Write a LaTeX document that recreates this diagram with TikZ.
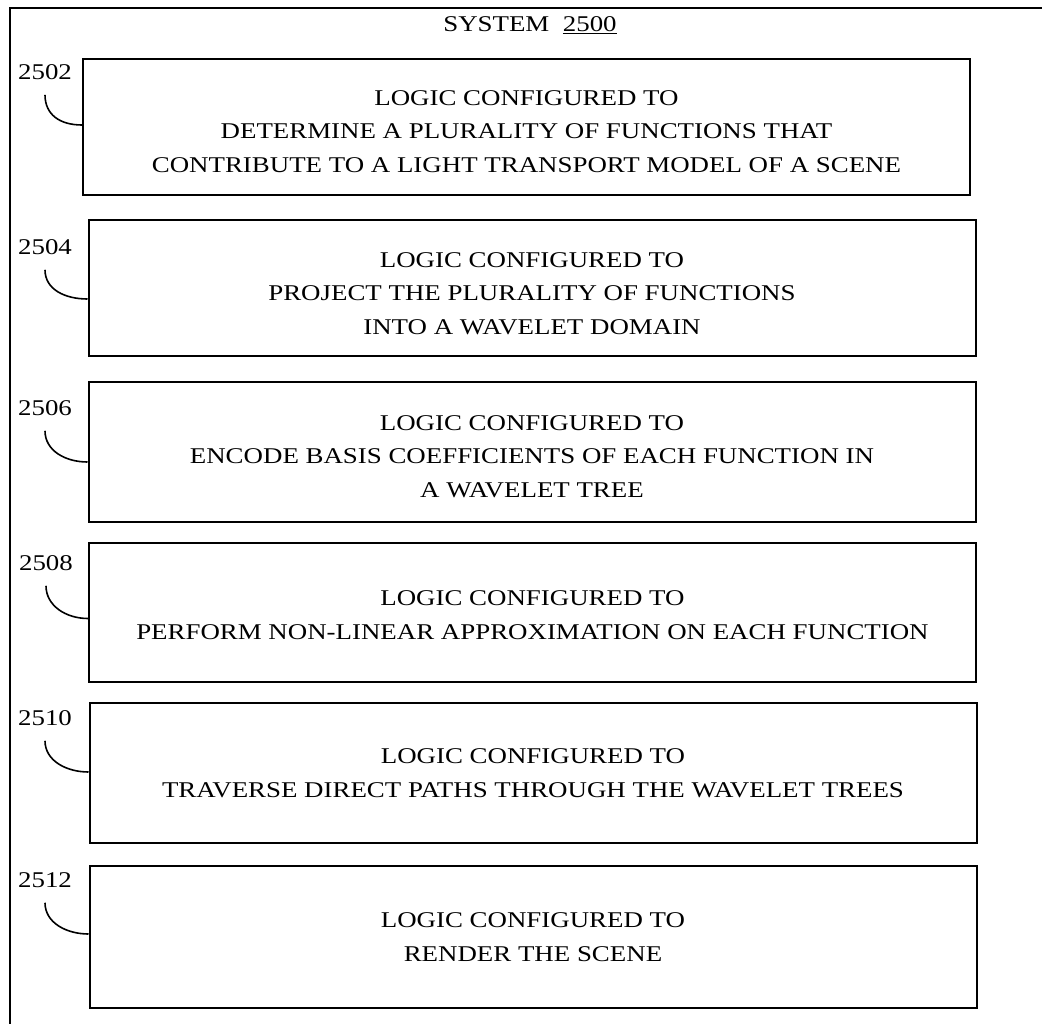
\documentclass[tikz,border=0pt]{standalone}
\usepackage{fontspec}
\setmainfont{Liberation Serif}[FakeStretch=1.195]
\newcommand{\boxfont}{\fontsize{22.5}{33.5}\selectfont}

\begin{document}
\begin{tikzpicture}[x=1pt,y=-1pt,
    frame/.style={line width=2.2pt},
    logicbox/.style={draw,line width=2pt,minimum width=887pt,align=center,font=\boxfont},
    tag/.style={inner sep=0pt,font=\boxfont},
    leader/.style={line width=1.6pt}]
    \useasboundingbox (0,0) rectangle (1042,1024);
    \draw [frame] (10,1060) -- (10,8) -- (1070,8);
    \node [tag] (title) at (530,25){SYSTEM\hspace{0.6em}\underline{2500}};

    \node [logicbox,minimum height=136pt] (b2502) at (526.5,127){\rule{0pt}{24pt}LOGIC CONFIGURED TO\\
      DETERMINE A PLURALITY OF FUNCTIONS THAT\\ CONTRIBUTE TO A LIGHT TRANSPORT MODEL OF A SCENE};
    \node [logicbox,minimum height=136pt] (b2504) at (532,288){\rule{0pt}{26pt}LOGIC CONFIGURED TO\\
      PROJECT THE PLURALITY OF FUNCTIONS\\ INTO A WAVELET DOMAIN};
    \node [logicbox,minimum height=140pt] (b2506) at (532,452){\rule{0pt}{24pt}LOGIC CONFIGURED TO\\
      ENCODE BASIS COEFFICIENTS OF EACH FUNCTION IN\\ A WAVELET TREE};
    \node [logicbox,minimum height=139pt] (b2508) at (532.5,612.5){\rule{0pt}{20pt}LOGIC CONFIGURED TO\\
      PERFORM NON-LINEAR APPROXIMATION ON EACH FUNCTION};
    \node [logicbox,minimum height=140pt] (b2510) at (533,773){LOGIC CONFIGURED TO\\
      TRAVERSE DIRECT PATHS THROUGH THE WAVELET TREES};
    \node [logicbox,minimum height=142pt] (b2512) at (533,937){LOGIC CONFIGURED TO\\ RENDER THE SCENE};

    \node [tag] (l2502) at (45,72){2502};
    \node [tag] (l2504) at (45,247){2504};
    \node [tag] (l2506) at (45,408){2506};
    \node [tag] (l2508) at (46,563){2508};
    \node [tag] (l2510) at (45,718){2510};
    \node [tag] (l2512) at (45,880){2512};

    \draw [leader] ([yshift=-15pt]l2502.south) .. controls +(0,20) and +(-22,0) .. ([yshift=2pt]b2502.west);
    \draw [leader] ([yshift=-15pt]l2504.south) .. controls +(0,20) and +(-22,0) .. ([yshift=-11pt]b2504.west);
    \draw [leader] ([yshift=-15pt]l2506.south) .. controls +(0,20) and +(-22,0) .. ([yshift=-10pt]b2506.west);
    \draw [leader] ([yshift=-15pt]l2508.south) .. controls +(0,20) and +(-22,0) .. ([yshift=-6pt]b2508.west);
    \draw [leader] ([yshift=-15pt]l2510.south) .. controls +(0,20) and +(-22,0) .. ([yshift=1pt]b2510.west);
    \draw [leader] ([yshift=-15pt]l2512.south) .. controls +(0,20) and +(-22,0) .. ([yshift=3pt]b2512.west);
\end{tikzpicture}
\end{document}
